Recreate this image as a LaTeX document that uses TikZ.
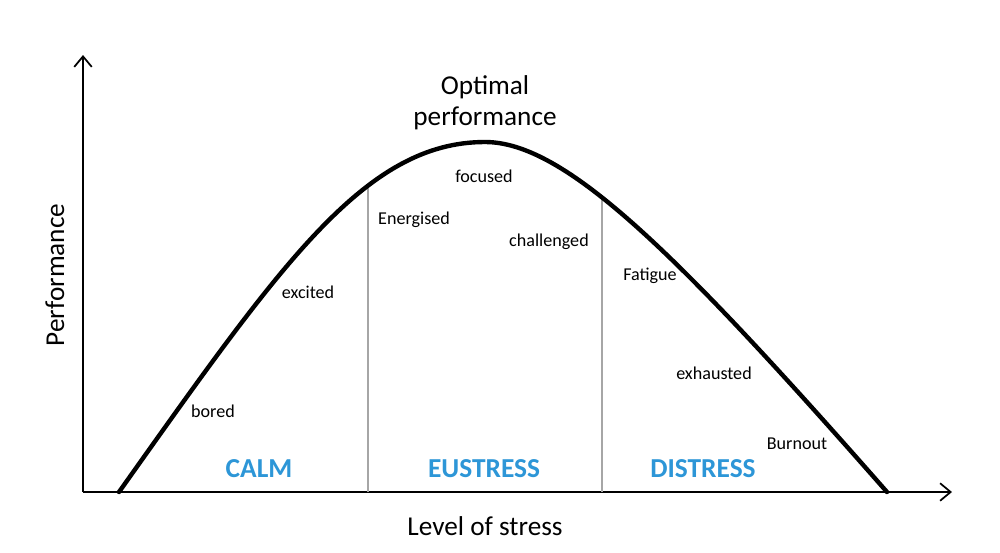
\documentclass[tikz,border=0pt]{standalone}
\usepackage{fontspec}
\setmainfont{Carlito}
\usetikzlibrary{arrows.meta}
\definecolor{zoneblue}{RGB}{45,150,215}

\begin{document}
\begin{tikzpicture}[x=0.02cm, y=-0.02cm,
    lbl/.style={font=\fontsize{10.3}{12}\selectfont, inner sep=0pt},
    zone/.style={font=\fontsize{15.6}{18}\selectfont\bfseries, text=zoneblue, inner sep=0pt},
    big/.style={font=\fontsize{15.5}{17.5}\selectfont, inner sep=0pt, align=center},
    arr/.style={-{Straight Barb[length=6pt, width=10pt, line width=1pt]}, line width=1.1pt},
    divider/.style={gray!70, line width=0.9pt}
]
\useasboundingbox (0,0) rectangle (1000,552);

% axes
\coordinate (o) at (83,492);
\coordinate (ytop) at (83,55);
\coordinate (xend) at (952,492);
\draw[arr] (o) -- (ytop);
\draw[arr] (o) -- (xend);

% zone boundaries
\coordinate (d1t) at (368,187);
\coordinate (d1b) at (368,492);
\coordinate (d2t) at (602,196);
\coordinate (d2b) at (602,492);
\draw[divider] (d1b) -- (d1t);
\draw[divider] (d2b) -- (d2t);

% performance curve
\coordinate (c0) at (119,492);
\coordinate (peak) at (485,142);
\coordinate (c1) at (887,492);
\draw[line width=2.5pt, line cap=round] (c0) .. controls (281,264) and (365,142) .. (peak)
    .. controls (565,142) and (676,252) .. (c1);

% labels
\node[big] (opt) at (485,103) {Optimal\\performance};
\node[lbl] (foc) at (484,176) {focused};
\node[lbl] (ene) at (414,220) {Energised};
\node[lbl] (cha) at (549,242) {challenged};
\node[lbl] (fat) at (650,276) {Fatigue};
\node[lbl] (exc) at (308,292) {excited};
\node[lbl] (exh) at (714,373) {exhausted};
\node[lbl] (bor) at (213,411) {bored};
\node[lbl] (bur) at (797,444) {Burnout};

\node[zone] (calm) at (259,469) {CALM};
\node[zone] (eus) at (484,469) {EUSTRESS};
\node[zone] (dis) at (703,469) {DISTRESS};

\node[big, rotate=90] (ylab) at (55,275) {Performance};
\node[big] (xlab) at (485,526) {Level of stress};
\end{tikzpicture}
\end{document}
